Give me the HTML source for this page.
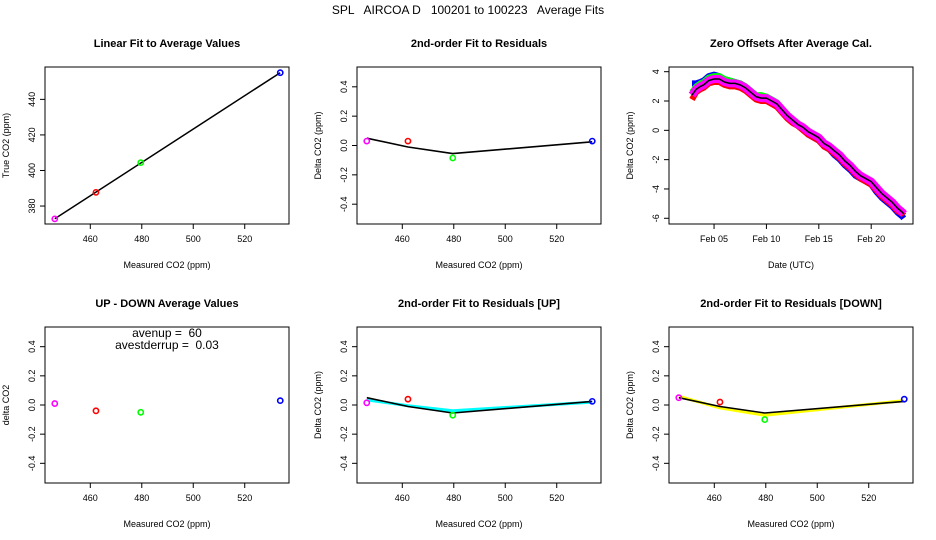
<!DOCTYPE html>
<html><head><meta charset="utf-8"><style>
body{margin:0;background:#fff}
svg{display:block;font-family:"Liberation Sans",Arial,sans-serif}
svg text{white-space:pre}
</style></head><body>
<svg id="c" width="936" height="540" xmlns="http://www.w3.org/2000/svg">
<text x="468" y="14" text-anchor="middle" font-size="12" xml:space="preserve">SPL   AIRCOA D   100201 to 100223   Average Fits</text>
</svg>
<script>
// ---- data ----
const measured = [446.2, 462.2, 479.6, 533.8];
const pointColors = ['#ff00ff', '#ff0000', '#00ff00', '#0000ff'];
const trueVals = [372.8, 387.7, 404.4, 455.0];
const resid = [0.03, 0.03, -0.085, 0.03];
const fitX = [446.2, 462.2, 479.6, 533.8];
const fitAll = [0.05, -0.01, -0.055, 0.025];
const updown = [0.01, -0.04, -0.05, 0.03];
const residUp = [0.015, 0.04, -0.07, 0.025];
const fitUp = [0.035, -0.005, -0.04, 0.02];
const residDown = [0.05, 0.02, -0.10, 0.04];
const fitDown = [0.06, -0.02, -0.07, 0.03];
const days = [2.9,3.3,3.7,4,4.5,5,5.5,6,6.5,7,7.5,8,8.5,9,9.5,10,10.5,11,11.5,12,12.5,13,13.5,14,14.5,15,15.5,16,16.5,17,17.5,18,18.5,19,19.5,20,20.5,21,21.5,22,22.5,23,23.1];
const meanOff = [2.4,2.8,3.0,3.1,3.4,3.5,3.5,3.3,3.2,3.2,3.1,2.9,2.6,2.3,2.2,2.2,2.0,1.8,1.4,1.0,0.7,0.4,0.2,-0.1,-0.3,-0.5,-0.9,-1.1,-1.4,-1.7,-2.1,-2.4,-2.8,-3.1,-3.3,-3.5,-3.9,-4.3,-4.6,-4.9,-5.3,-5.6,-5.7];
const blueOff = [3.2,3.2,3.3,3.4,3.7,3.8,3.7,3.5,3.4,3.3,3.2,3.0,2.7,2.4,2.3,2.3,2.1,1.9,1.4,1.0,0.6,0.3,0.1,-0.3,-0.5,-0.7,-1.1,-1.3,-1.7,-2.0,-2.4,-2.7,-3.1,-3.3,-3.5,-3.7,-4.2,-4.6,-4.9,-5.2,-5.6,-5.9,-6.0];
const greenOff = [2.6,3.0,3.2,3.3,3.6,3.7,3.7,3.5,3.4,3.3,3.2,3.0,2.7,2.4,2.4,2.3,2.1,1.9,1.5,1.0,0.7,0.4,0.2,-0.1,-0.3,-0.5,-0.9,-1.2,-1.5,-1.8,-2.2,-2.5,-2.9,-3.2,-3.4,-3.6,-4.0,-4.4,-4.7,-5.0,-5.4,-5.7,-5.8];
const redOff = [2.1,2.6,2.8,2.9,3.2,3.3,3.3,3.1,3.0,3.0,2.9,2.7,2.4,2.1,2.0,2.0,1.8,1.6,1.2,0.8,0.5,0.3,0.0,-0.3,-0.5,-0.7,-1.1,-1.3,-1.6,-1.9,-2.3,-2.6,-3.0,-3.3,-3.5,-3.7,-4.1,-4.5,-4.8,-5.1,-5.5,-5.7,-5.8];
const xTicks = [460, 480, 500, 520];
const yTicksTrue = [380, 400, 420, 440];
const yTicksRes = [-0.4, -0.2, 0.0, 0.2, 0.4];
const resLabels = ['-0.4', '-0.2', '0.0', '0.2', '0.4'];
const dayTicks = [5, 10, 15, 20];
const dayLabels = ['Feb 05', 'Feb 10', 'Feb 15', 'Feb 20'];
const yTicksZero = [-6, -4, -2, 0, 2, 4];

const NS = 'http://www.w3.org/2000/svg';
const svg = document.getElementById('c');
function mk(tag, attrs, parent){const e=document.createElementNS(NS,tag);for(const k in attrs)e.setAttribute(k,attrs[k]);(parent||svg).appendChild(e);return e;}
function txt(x,y,s,size,extra,parent){const t=mk('text',Object.assign({x:x,y:y,'font-size':size,'text-anchor':'middle'},extra||{}),parent);t.textContent=s;return t;}

function panel(name,L,T,R,B,xd,yd,title,xlab,ylab){
  const g=mk('g',{});
  
  
  const sx=v=>L+(v-xd[0])/(xd[1]-xd[0])*(R-L);
  const sy=v=>B-(v-yd[0])/(yd[1]-yd[0])*(B-T);
  const box=mk('rect',{x:L,y:T,width:R-L,height:B-T,fill:'none',stroke:'#000','stroke-width':1},g);
  
  
  const tt=txt((L+R)/2,T-20,title,11,{'font-weight':'bold'},g);
  
  
  const xl=txt((L+R)/2,B+44,xlab,9,{},g);
  
  
  const yl=txt(0,0,ylab,9,{transform:`translate(${L-36},${(T+B)/2}) rotate(-90)`},g);
  
  
  return {g,sx,sy,L,T,R,B};
}
function xaxis(p,ticks,labels){
  ticks.forEach((v,i)=>{const x=p.sx(v);
    mk('line',{x1:x,x2:x,y1:p.B,y2:p.B+5,stroke:'#000'},p.g);
    const t=txt(x,p.B+18,labels?labels[i]:String(v),9,{},p.g);
    
    });
}
function yaxis(p,ticks,labels){
  ticks.forEach((v,i)=>{const y=p.sy(v);
    mk('line',{x1:p.L-5,x2:p.L,y1:y,y2:y,stroke:'#000'},p.g);
    const t=txt(0,0,labels?labels[i]:String(v),9,{transform:`translate(${p.L-10},${y}) rotate(-90)`},p.g);
    
    });
}
function pts(p,xs,ys,name){
  xs.forEach((v,i)=>{const c=mk('circle',{cx:p.sx(v),cy:p.sy(ys[i]),r:2.6,fill:'none',stroke:pointColors[i],'stroke-width':1.6},p.g);
    
    });
}
function line(p,xs,ys,color,w,name){
  const d=xs.map((v,i)=>(i?'L':'M')+p.sx(v).toFixed(1)+','+p.sy(ys[i]).toFixed(1)).join('');
  const e=mk('path',{d:d,fill:'none',stroke:color,'stroke-width':w,'stroke-linejoin':'round'},p.g);
  
  
}
const XD=[442.4,537.2], RD=[-0.535,0.535];

// Panel 1
let p=panel('linear-fit-panel',45,67,289,224,XD,[369.9,458.2],'Linear Fit to Average Values','Measured CO2 (ppm)','True CO2 (ppm)');
xaxis(p,xTicks);yaxis(p,yTicksTrue);
line(p,[measured[0],measured[3]],[trueVals[0],trueVals[3]],'#000',1.5,'linear-fit-line');
pts(p,measured,trueVals,'true-co2');

// Panel 2
p=panel('residual-fit-panel',357,67,601,224,XD,RD,'2nd-order Fit to Residuals','Measured CO2 (ppm)','Delta CO2 (ppm)');
xaxis(p,xTicks);yaxis(p,yTicksRes,resLabels);
line(p,fitX,fitAll,'#000',1.6,'residual-fit-line');
pts(p,measured,resid,'residual');

// Panel 3
p=panel('zero-offsets-panel',669,67,913,224,[0.7,23.99],[-6.39,4.32],'Zero Offsets After Average Cal.','Date (UTC)','Delta CO2 (ppm)');
xaxis(p,dayTicks,dayLabels);yaxis(p,yTicksZero);
line(p,days,blueOff,'#0000ff',6,'blue-series');
line(p,days,greenOff,'#00ff00',6,'green-series');
line(p,days,redOff,'#ff0000',6,'red-series');
line(p,days,meanOff,'#ff00ff',8,'magenta-series');
line(p,days,meanOff,'#000',1.5,'mean-series');

// Panel 4
p=panel('up-down-panel',45,327,289,483,XD,RD,'UP - DOWN Average Values','Measured CO2 (ppm)','delta CO2');
xaxis(p,xTicks);yaxis(p,yTicksRes,resLabels);
pts(p,measured,updown,'up-down');
let a=txt(167,337,'avenup =  60',12,{},p.g);


a=txt(167,349,'avestderrup =  0.03',12,{},p.g);



// Panel 5
p=panel('residual-up-panel',357,327,601,483,XD,RD,'2nd-order Fit to Residuals [UP]','Measured CO2 (ppm)','Delta CO2 (ppm)');
xaxis(p,xTicks);yaxis(p,yTicksRes,resLabels);
line(p,fitX,fitUp,'#00ffff',3,'up-fit-line');
line(p,fitX,fitAll,'#000',1.6,'overall-fit-line');
pts(p,measured,residUp,'residual-up');

// Panel 6
p=panel('residual-down-panel',669,327,913,483,XD,RD,'2nd-order Fit to Residuals [DOWN]','Measured CO2 (ppm)','Delta CO2 (ppm)');
xaxis(p,xTicks);yaxis(p,yTicksRes,resLabels);
line(p,fitX,fitDown,'#ffff00',3,'down-fit-line');
line(p,fitX,fitAll,'#000',1.6,'overall-fit-line');
pts(p,measured,residDown,'residual-down');
</script>
</body></html>
